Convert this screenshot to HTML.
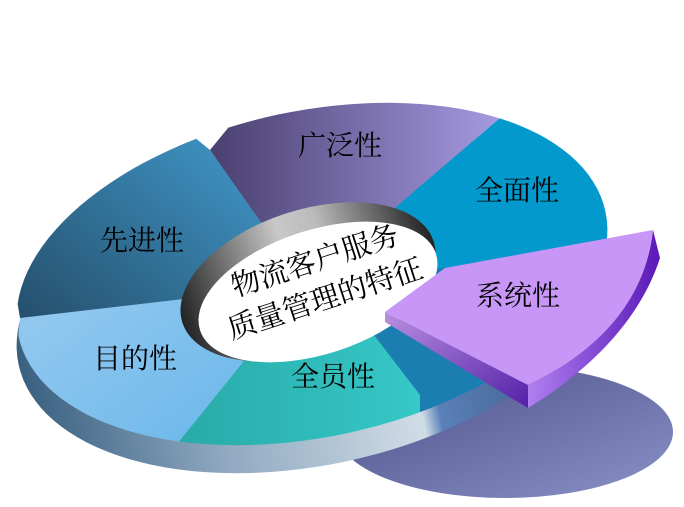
<!DOCTYPE html>
<html><head><meta charset="utf-8"><style>
html,body{margin:0;padding:0;background:#fff;overflow:hidden;}
svg{display:block}
text{font-family:"Liberation Serif","Noto Serif CJK SC","Noto Sans CJK SC",serif;fill:#000;}
</style></head><body>
<svg width="684" height="507" viewBox="0 0 684 507" xmlns="http://www.w3.org/2000/svg">
<defs>
<linearGradient id="shadow" x1="0" y1="0" x2="1" y2="1"><stop offset="0" stop-color="#4a4e86"/><stop offset="1" stop-color="#8a92c8"/></linearGradient>
<linearGradient id="rim" x1="0" y1="0" x2="1" y2="0"><stop offset="0" stop-color="#3a6080"/><stop offset="0.3" stop-color="#8fa8c0"/><stop offset="0.64" stop-color="#d0dde6"/><stop offset="0.67" stop-color="#5a80b8"/><stop offset="1" stop-color="#304a70"/></linearGradient>
<linearGradient id="xj" x1="0" y1="1" x2="1" y2="0"><stop offset="0" stop-color="#244c68"/><stop offset="1" stop-color="#48aee6"/></linearGradient>
<linearGradient id="gf" x1="0" y1="0" x2="1" y2="0"><stop offset="0" stop-color="#4a3f70"/><stop offset="1" stop-color="#a49ae0"/></linearGradient>
<linearGradient id="md" x1="0" y1="0" x2="1" y2="1"><stop offset="0" stop-color="#9acbf0"/><stop offset="1" stop-color="#58b0e8"/></linearGradient>
<linearGradient id="qy" x1="0" y1="0" x2="1" y2="0"><stop offset="0" stop-color="#28aaa8"/><stop offset="1" stop-color="#36c8c8"/></linearGradient>
<linearGradient id="hole" x1="0" y1="0" x2="1" y2="0"><stop offset="0" stop-color="#222"/><stop offset="0.45" stop-color="#c8c8c8"/><stop offset="0.6" stop-color="#bbb"/><stop offset="1" stop-color="#222"/></linearGradient>
<linearGradient id="sside" x1="0" y1="0" x2="1" y2="0"><stop offset="0" stop-color="#b080f0"/><stop offset="1" stop-color="#5a18b8"/></linearGradient>
<linearGradient id="sin" x1="0" y1="0" x2="1" y2="1"><stop offset="0" stop-color="#b890e0"/><stop offset="1" stop-color="#5420a8"/></linearGradient>
<clipPath id="top"><ellipse cx="312" cy="274" rx="300" ry="163" transform="rotate(-12 312 274)"/></clipPath>
</defs>
<ellipse cx="505" cy="432" rx="168" ry="66" fill="url(#shadow)"/>
<ellipse cx="312" cy="302" rx="300" ry="163" transform="rotate(-12 312 302)" fill="url(#rim)"/>
<g clip-path="url(#top)">
<polygon points="305,285 20,318 0,200 100,60 210,150" fill="url(#xj)"/>
<polygon points="305,285 210,150 300,40 500,118" fill="url(#gf)"/>
<polygon points="305,285 500,118 690,60 690,228 445,268" fill="#0499cc"/>
<polygon points="305,285 445,268 690,228 690,480 420,480 420,395" fill="#1a7fb0"/>
<polygon points="305,285 20,318 0,520 178,443" fill="url(#md)"/>
<polygon points="305,285 178,443 180,520 420,520 420,395 370,330" fill="url(#qy)"/>
</g>
<ellipse cx="308" cy="282" rx="132" ry="72" transform="rotate(-18 308 282)" fill="url(#hole)"/>
<ellipse cx="318" cy="292" rx="124" ry="62" transform="rotate(-18 318 292)" fill="#fff"/>
<text transform="translate(318,270) rotate(-18)" text-anchor="middle" font-size="29">物流客户服务</text>
<text transform="translate(328,308) rotate(-18)" text-anchor="middle" font-size="29">质量管理的特征</text>
<polygon points="385,312 385,322 528,408 528,385" fill="url(#sin)"/>
<path d="M528,385 L528,408 C590,370 640,320 660,258 L653,230 C645,300 600,350 528,385 Z" fill="url(#sside)"/>
<path d="M385,312 L445,268 L653,230 C645,300 600,350 528,385 Z" fill="#c896f6"/>
<text x="340" y="155" text-anchor="middle" font-size="28">广泛性</text>
<text x="517" y="200" text-anchor="middle" font-size="28">全面性</text>
<text x="142" y="250" text-anchor="middle" font-size="28">先进性</text>
<text x="518" y="305" text-anchor="middle" font-size="28">系统性</text>
<text x="135" y="368" text-anchor="middle" font-size="28">目的性</text>
<text x="333" y="386" text-anchor="middle" font-size="28">全员性</text>
</svg>
</body></html>
